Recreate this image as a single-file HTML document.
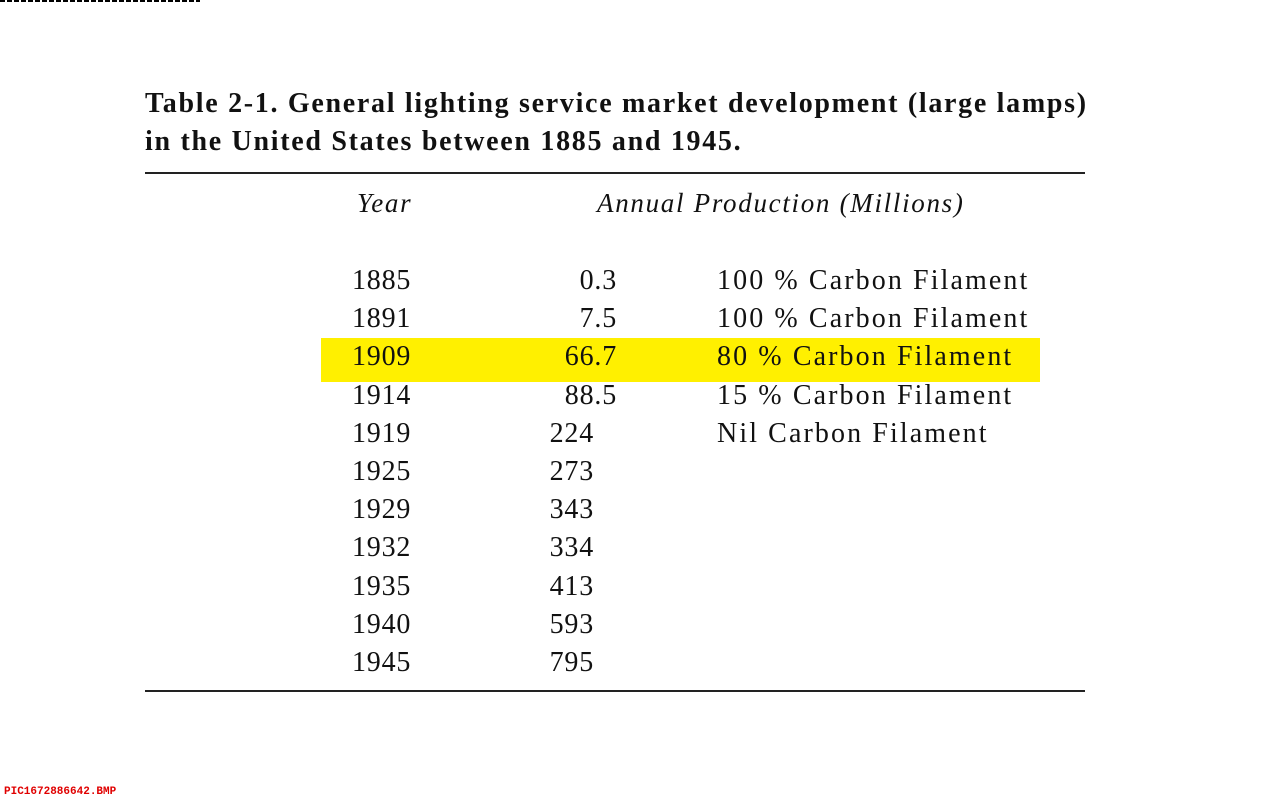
<!DOCTYPE html>
<html><head><meta charset="utf-8"><style>
html,body{margin:0;padding:0;width:1280px;height:800px;background:#fff;overflow:hidden;position:relative}
.t{position:absolute;font-family:"Liberation Serif",serif;color:#111;white-space:nowrap;line-height:1}
.title{font-weight:bold;font-size:28px;left:145px;letter-spacing:1.7px}
.rule{position:absolute;left:145px;width:940px;height:2px;background:#222}
.cell{font-size:28px;letter-spacing:0.8px}
.note{letter-spacing:2.1px}
.hdr{font-size:27px;font-style:italic;letter-spacing:1.7px}
</style></head><body>
<div style="position:absolute;left:0;top:0;width:200px;height:2px;background:repeating-linear-gradient(90deg,#000 0 5px,#fff 5px 7px)"></div>
<div class="t title" style="top:90px">Table 2-1. General lighting service market development (large lamps)</div>
<div class="t title" style="top:128px">in the United States between 1885 and 1945.</div>
<div class="rule" style="top:172px"></div>
<div class="t hdr" style="left:357px;top:190px">Year</div>
<div class="t hdr" style="left:597px;top:190px">Annual Production (Millions)</div>
<div style="position:absolute;left:321px;top:338px;width:719px;height:44px;background:#fff000"></div>
<div id="rows"></div>
<div class="rule" style="top:690px"></div>
<div class="t" style="left:4px;top:787px;font-family:'Liberation Mono',monospace;font-weight:bold;font-size:11px;color:#e00000">PIC1672886642.BMP</div>
<script>
const years=["1885","1891","1909","1914","1919","1925","1929","1932","1935","1940","1945"];
const production=["0.3","7.5","66.7","88.5","224","273","343","334","413","593","795"];
const notes=["100 % Carbon Filament","100 % Carbon Filament","80 % Carbon Filament","15 % Carbon Filament","Nil Carbon Filament","","","","","",""];
const root=document.getElementById('rows');
years.forEach((y,i)=>{
  const top=267+i*38.2;
  const a=document.createElement('div');a.className='t cell';a.style.left='352px';a.style.top=top+'px';a.textContent=y;
  
  
  root.appendChild(a);
  const p=production[i];const b=document.createElement('div');b.className='t cell';
  const right=p.indexOf('.')>=0?616:593;
  b.style.right=(1280-right-1)+'px';b.style.top=top+'px';b.textContent=p;
  
  
  root.appendChild(b);
  if(notes[i]){const c=document.createElement('div');c.className='t cell note';c.style.left='717px';c.style.top=top+'px';c.textContent=notes[i];
  
  
  root.appendChild(c);}
});
</script>
</body></html>
